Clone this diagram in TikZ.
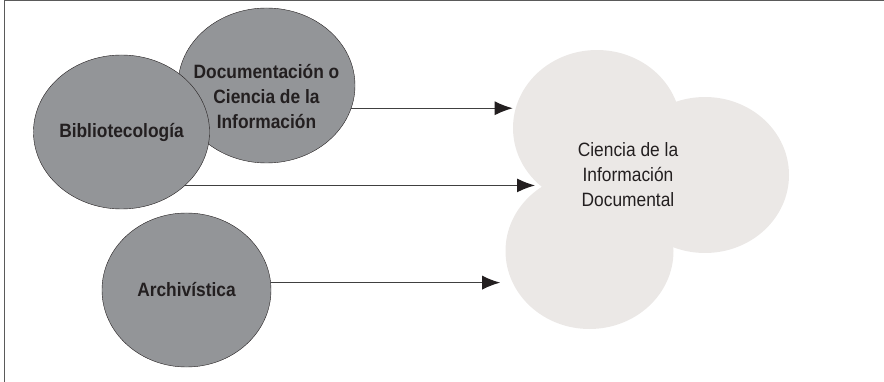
\documentclass[tikz,border=0pt]{standalone}
\usepackage{fontspec}
\setmainfont{Liberation Sans}[FakeStretch=0.9]
\usepackage{tikz}
\usetikzlibrary{shapes.geometric,arrows.meta,calc}

\definecolor{discgray}{HTML}{939598}
\definecolor{cloudgray}{HTML}{EBE8E6}
\definecolor{framegray}{HTML}{5A5A5A}
\definecolor{inkgray}{HTML}{231F20}

\begin{document}
\begin{tikzpicture}[x=1pt, y=-1pt, ->, >={Latex[length=18pt,width=14pt,color=inkgray]}, semithick]
\tikzstyle{field}=[ellipse,draw=inkgray,thin,fill=discgray,text=inkgray,font=\fontsize{19.3}{25}\selectfont\bfseries,align=center,minimum width=169pt,minimum height=154pt,inner sep=0pt]
\tikzstyle{fieldtext}=[text=inkgray,font=\fontsize{19.3}{25}\selectfont\bfseries,align=center,inner sep=0pt]
\tikzstyle{lobe}=[ellipse,fill=cloudgray,minimum width=168pt,minimum height=156pt,inner sep=0pt]
\tikzstyle{link}=[draw=black!75,line width=1.1pt]

\useasboundingbox (0,0) rectangle (884,382);
\draw[-, framegray, line width=1.4pt] (4.5,382) -- (4.5,0.7) -- (884,0.7);

\node[field, minimum width=177pt, minimum height=155pt] (doc) at (266.5,85.5) {};
\node[fieldtext]  (doctext)   at (266.5,97)   {Documentación o\\Ciencia de la\\Información};
\node[field]      (biblio)    at (121.5,132)  {Bibliotecología};
\node[field]      (archi)     at (186.5,290)  {Archivística};

\node[lobe]       (lobetop)    at (597,128)   {};
\node[lobe]       (loberight)  at (705,175)   {};
\node[lobe]       (lobebottom) at (589.5,251) {};
\node[text=inkgray,font=\fontsize{19.3}{25}\selectfont,align=center] (cid) at (628,175) {Ciencia de la\\Información\\Documental};

\coordinate (notch) at (535,185);

\path (doc.-15)    edge [link]                  (doc.-15 -| lobetop.west);
\path (biblio.-40) edge [link]                  (biblio.-40 -| notch);
\path (archi.5)    edge [link, shorten >=5pt]   (archi.5 -| lobebottom.west);

\end{tikzpicture}
\end{document}
